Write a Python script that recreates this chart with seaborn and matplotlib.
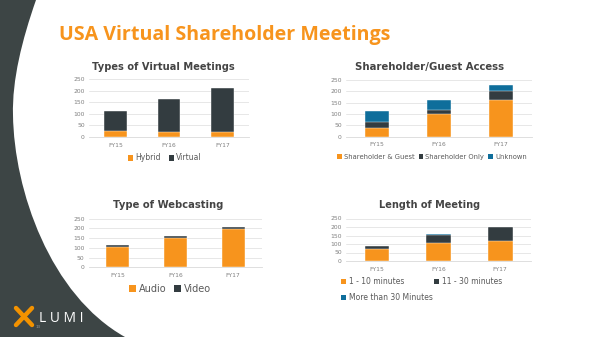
import numpy as np
import pandas as pd
import matplotlib
matplotlib.use("Agg")
import matplotlib.pyplot as plt
from matplotlib.path import Path
from matplotlib.patches import PathPatch, Patch
from matplotlib.lines import Line2D
import seaborn as sns

# ---------------- data ----------------
years = ["FY15", "FY16", "FY17"]
yticks = [0, 50, 100, 150, 200, 250]

types_hybrid = [25, 23, 23]
types_virtual = [88, 139, 188]

access_guest = [40, 101, 160]
access_only = [23, 17, 43]
access_unknown = [52, 45, 25]

web_audio = [106, 151, 197]
web_video = [9, 10, 10]

len_short = [69, 105, 119]
len_mid = [18, 48, 79]
len_long = [4, 6, 4]

ORANGE = "#f7941d"
DARK = "#333c40"
BLUE = "#0f6e9b"
BG = "#3d4545"
GRID = "#e3e3e3"
TXT = "#7f7f7f"
TITLE = "#444444"

sns.set_theme(style="white")
plt.rcParams["font.family"] = ["DejaVu Sans"]

W, H = 600, 337
fig = plt.figure(figsize=(6, 3.37), dpi=100)
fig.patch.set_facecolor(BG)

def fx(x):
    return x / W
def fy(y):
    return 1 - y / H

# white slide area with curved left edge
verts = [(36, 0), (22, 40), (12, 80), (13, 115),
         (14, 190), (50, 295), (125, 337),
         (600, 337), (600, 0), (36, 0)]
codes = [Path.MOVETO, Path.CURVE4, Path.CURVE4, Path.CURVE4,
         Path.CURVE4, Path.CURVE4, Path.CURVE4,
         Path.LINETO, Path.LINETO, Path.CLOSEPOLY]
path = Path([(fx(x), fy(y)) for x, y in verts], codes)
fig.patches.append(PathPatch(path, transform=fig.transFigure,
                             facecolor="white", edgecolor="none", zorder=-5))

renderer = fig.canvas.get_renderer()

def fit(t, width_px):
    bb = t.get_window_extent(renderer)
    t.set_fontsize(t.get_fontsize() * width_px / bb.width)

# main title
t = fig.text(fx(59), fy(40), "USA Virtual Shareholder Meetings", color=ORANGE,
             fontsize=16, fontweight="bold", family="Open Sans", va="baseline", ha="left")
fit(t, 333)


def make_ax(left, right, top, bottom):
    ax = fig.add_axes([fx(left), fy(bottom), (right - left) / W, (bottom - top) / H])
    ax.set_facecolor("none")
    ax.set_zorder(2)
    return ax


def stacked(ax, layers, colors, width):
    cum = np.zeros(len(years))
    tops = []
    for vals in layers:
        cum = cum + np.array(vals, dtype=float)
        tops.append(cum.copy())
    for top, col in reversed(list(zip(tops, colors))):
        df = pd.DataFrame({"year": years, "v": top})
        sns.barplot(data=df, x="year", y="v", color=col, width=width, ax=ax,
                    saturation=1, edgecolor="white", linewidth=0.3, zorder=3)
    ax.set_ylim(0, 250)
    ax.set_yticks(yticks)
    ax.set_xlabel("")
    ax.set_ylabel("")
    ax.grid(axis="y", color=GRID, linewidth=0.6, zorder=0)
    ax.set_axisbelow(True)
    for s in ["top", "right", "left"]:
        ax.spines[s].set_visible(False)
    ax.spines["bottom"].set_color("#d9d9d9")
    ax.spines["bottom"].set_linewidth(0.6)
    ax.tick_params(axis="both", length=0, labelsize=4.3, labelcolor=TXT, pad=3)
    ax.tick_params(axis="x", pad=4)


def title(xc, yc, s, w):
    tt = fig.text(fx(xc), fy(yc), s, color=TITLE, fontsize=8, fontweight="bold",
                  ha="center", va="center")
    fit(tt, w)


def legend(labels, colors, xc, yc, fs, ncol, colsp=1.0):
    handles = [Patch(facecolor=c, edgecolor="none") for c in colors]
    lg = fig.legend(handles, labels, loc="center", bbox_to_anchor=(fx(xc), fy(yc)),
                    ncol=ncol, frameon=False, fontsize=fs, handlelength=0.7,
                    handleheight=0.7, handletextpad=0.3, columnspacing=colsp,
                    labelcolor="#595959", borderaxespad=0, borderpad=0)
    return lg

# chart 1
ax1 = make_ax(89, 249, 79, 137)
stacked(ax1, [types_hybrid, types_virtual], [ORANGE, DARK], 0.42)
title(163, 67, "Types of Virtual Meetings", 142)
legend(["Hybrid", "Virtual"], [ORANGE, DARK], 165, 158, 5.5, 2, 1.0)

# chart 2
ax2 = make_ax(346, 532, 80, 136.7)
stacked(ax2, [access_guest, access_only, access_unknown], [ORANGE, DARK, BLUE], 0.40)
title(430, 67, "Shareholder/Guest Access", 149)
legend(["Shareholder & Guest", "Shareholder Only", "Unknown"], [ORANGE, DARK, BLUE],
       432, 157, 4.9, 3, 0.6)

# chart 3
ax3 = make_ax(88.7, 262, 218.7, 267.3)
stacked(ax3, [web_audio, web_video], [ORANGE, DARK], 0.40)
title(168, 205.5, "Type of Webcasting", 110)
legend(["Audio", "Video"], [ORANGE, DARK], 170, 289, 7.0, 2, 0.8)

# chart 4
ax4 = make_ax(346, 531, 218.5, 261)
stacked(ax4, [len_short, len_mid, len_long], [ORANGE, DARK, BLUE], 0.40)
title(430, 205.5, "Length of Meeting", 100)
fig.legend([Patch(facecolor=c, edgecolor="none") for c in [ORANGE, BLUE, DARK]],
           ["1 - 10 minutes", "More than 30 Minutes", "11 - 30 minutes"],
           loc="upper left", bbox_to_anchor=(fx(341), fy(277)), ncol=2,
           frameon=False, fontsize=5.5, handlelength=0.7, handleheight=0.7,
           handletextpad=0.3, columnspacing=0.2, labelcolor="#595959",
           borderaxespad=0, borderpad=0, labelspacing=0.9)

# logo
for (x0, y0, x1, y1) in [(16, 308, 32, 325), (16, 325, 32, 308)]:
    fig.add_artist(Line2D([fx(x0), fx(x1)], [fy(y0), fy(y1)], transform=fig.transFigure,
                          color="#f39200", linewidth=3.2, solid_capstyle="round"))
lt = fig.text(fx(39), fy(318), "L U M I", color="white", fontsize=10, family="Open Sans",
              ha="left", va="center")
fit(lt, 44)
fig.text(fx(36), fy(327), "13", color="#9a9a9a", fontsize=3, ha="left", va="center")

fig.savefig("out.png", dpi=100, facecolor=fig.get_facecolor())
